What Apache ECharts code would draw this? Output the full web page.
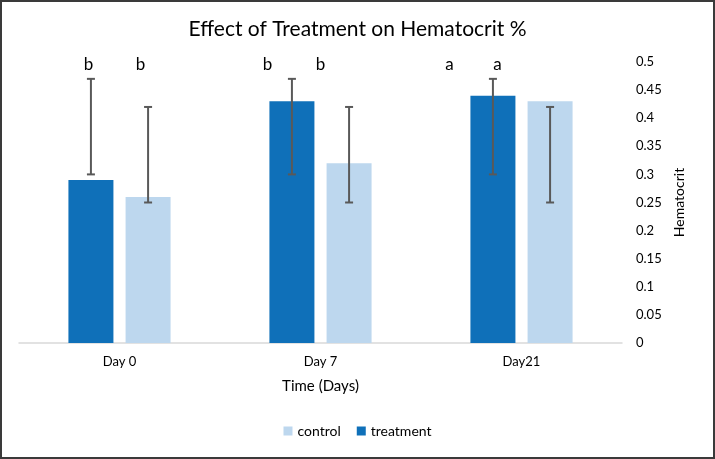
<!DOCTYPE html>
<html>
<head>
<meta charset="utf-8">
<script src="https://cdn.jsdelivr.net/npm/echarts@6/dist/echarts.min.js"></script>
<style>
html, body { margin: 0; padding: 0; background: #fff; }
#chart { width: 715px; height: 459px; }
</style>
</head>
<body>
<div id="chart"></div>
<script>
var categories = ['Day 0', 'Day 7', 'Day21'];
var treatment = [0.29, 0.43, 0.44];
var control = [0.26, 0.32, 0.43];
// error bar ends [low, high]
var treatmentErr = [[0.30, 0.47], [0.30, 0.47], [0.30, 0.47]];
var controlErr = [[0.25, 0.42], [0.25, 0.42], [0.25, 0.42]];
// significance letters, [treatment, control] per day
var letters = [['b', 'b'], ['b', 'b'], ['a', 'a']];
var yTicks = [0, 0.05, 0.1, 0.15, 0.2, 0.25, 0.3, 0.35, 0.4, 0.45, 0.5];

var dom = document.getElementById("chart");
var myChart = echarts.init(dom);

var font = 'Lato';
var barW = 45;
var gapPct = 27;
var shift = (barW + barW * gapPct / 100) / 2;

function errSeries(name, errs, side) {
    return {
        name: name + ' err',
        type: 'custom',
        silent: true,
        z: 5,
        data: errs.map(function (e, i) { return [i, e[0], e[1]]; }),
        renderItem: function (params, api) {
            var lo = api.coord([api.value(0), api.value(1)]);
            var hi = api.coord([api.value(0), api.value(2)]);
            var x = lo[0] + side * shift;
            var cap = 4;
            var st = { stroke: '#595959', lineWidth: 2 };
            return {
                type: 'group',
                children: [
                    { type: 'line', shape: { x1: x, y1: lo[1], x2: x, y2: hi[1] }, style: st },
                    { type: 'line', shape: { x1: x - cap, y1: lo[1], x2: x + cap, y2: lo[1] }, style: st },
                    { type: 'line', shape: { x1: x - cap, y1: hi[1], x2: x + cap, y2: hi[1] }, style: st }
                ]
            };
        }
    };
}

var option = {
    animation: false,
    textStyle: { fontFamily: font },
    title: {
        text: 'Effect of Treatment on Hematocrit %',
        left: 'center',
        top: 14,
        textStyle: { fontFamily: font, fontSize: 21, fontWeight: 'normal', color: '#000' }
    },
    legend: {
        data: ['control', 'treatment'],
        bottom: 16,
        left: 'center',
        itemWidth: 9,
        itemHeight: 9,
        itemGap: 16,
        icon: 'rect',
        textStyle: { fontFamily: font, fontSize: 14, color: '#000' }
    },
    grid: { left: 19, right: 93, top: 62, bottom: 116 },
    xAxis: {
        type: 'category',
        data: categories,
        name: 'Time (Days)',
        nameLocation: 'middle',
        nameGap: 36,
        nameTextStyle: { fontFamily: font, fontSize: 15, color: '#000' },
        axisLine: { lineStyle: { color: '#d9d9d9', width: 1.5 } },
        axisTick: { show: false },
        axisLabel: { margin: 12, fontSize: 13, color: '#000', fontFamily: font }
    },
    yAxis: {
        type: 'value',
        position: 'right',
        min: 0,
        max: 0.5,
        interval: 0.05,
        name: 'Hematocrit',
        nameLocation: 'middle',
        nameRotate: 90,
        nameGap: 47,
        nameTextStyle: { fontFamily: font, fontSize: 14, color: '#000' },
        axisLine: { show: false },
        axisTick: { show: false },
        splitLine: { show: false },
        axisLabel: {
            margin: 14,
            fontSize: 13,
            color: '#000',
            fontFamily: font,
            formatter: function (v) {
                var t = yTicks.find(function (y) { return Math.abs(y - v) < 1e-9; });
                return t === undefined ? '' : String(t);
            }
        }
    },
    series: [
        {
            name: 'treatment',
            type: 'bar',
            data: treatment,
            barWidth: barW,
            barGap: gapPct + '%',
            itemStyle: { color: '#0f70b9' }
        },
        {
            name: 'control',
            type: 'bar',
            data: control,
            barWidth: barW,
            itemStyle: { color: '#bdd7ee' }
        },
        errSeries('treatment', treatmentErr, -1),
        errSeries('control', controlErr, 1)
    ]
};

if (option && typeof option === 'object') {
    myChart.setOption(option);
}

// letters were placed by hand in the original, so keep their offsets from each day's centre
var letterDx = [[-31, 21], [-53, 0], [-72, -24]];
var topY = myChart.convertToPixel({ yAxisIndex: 0 }, 0.5);
var texts = [];
letters.forEach(function (pair, i) {
    var cx = myChart.convertToPixel({ xAxisIndex: 0 }, categories[i]);
    pair.forEach(function (l, j) {
        texts.push({
            type: 'text',
            x: cx + letterDx[i][j],
            y: topY + 3,
            style: {
                text: l,
                fontFamily: font,
                fontSize: 17,
                fill: '#000',
                align: 'center',
                verticalAlign: 'middle'
            }
        });
    });
});
texts.push({
    type: 'rect',
    shape: { x: 1, y: 1, width: 713, height: 457 },
    style: { fill: null, stroke: '#3a3a3a', lineWidth: 2 },
    silent: true
});
myChart.setOption({ graphic: texts });
</script>
</body>
</html>
